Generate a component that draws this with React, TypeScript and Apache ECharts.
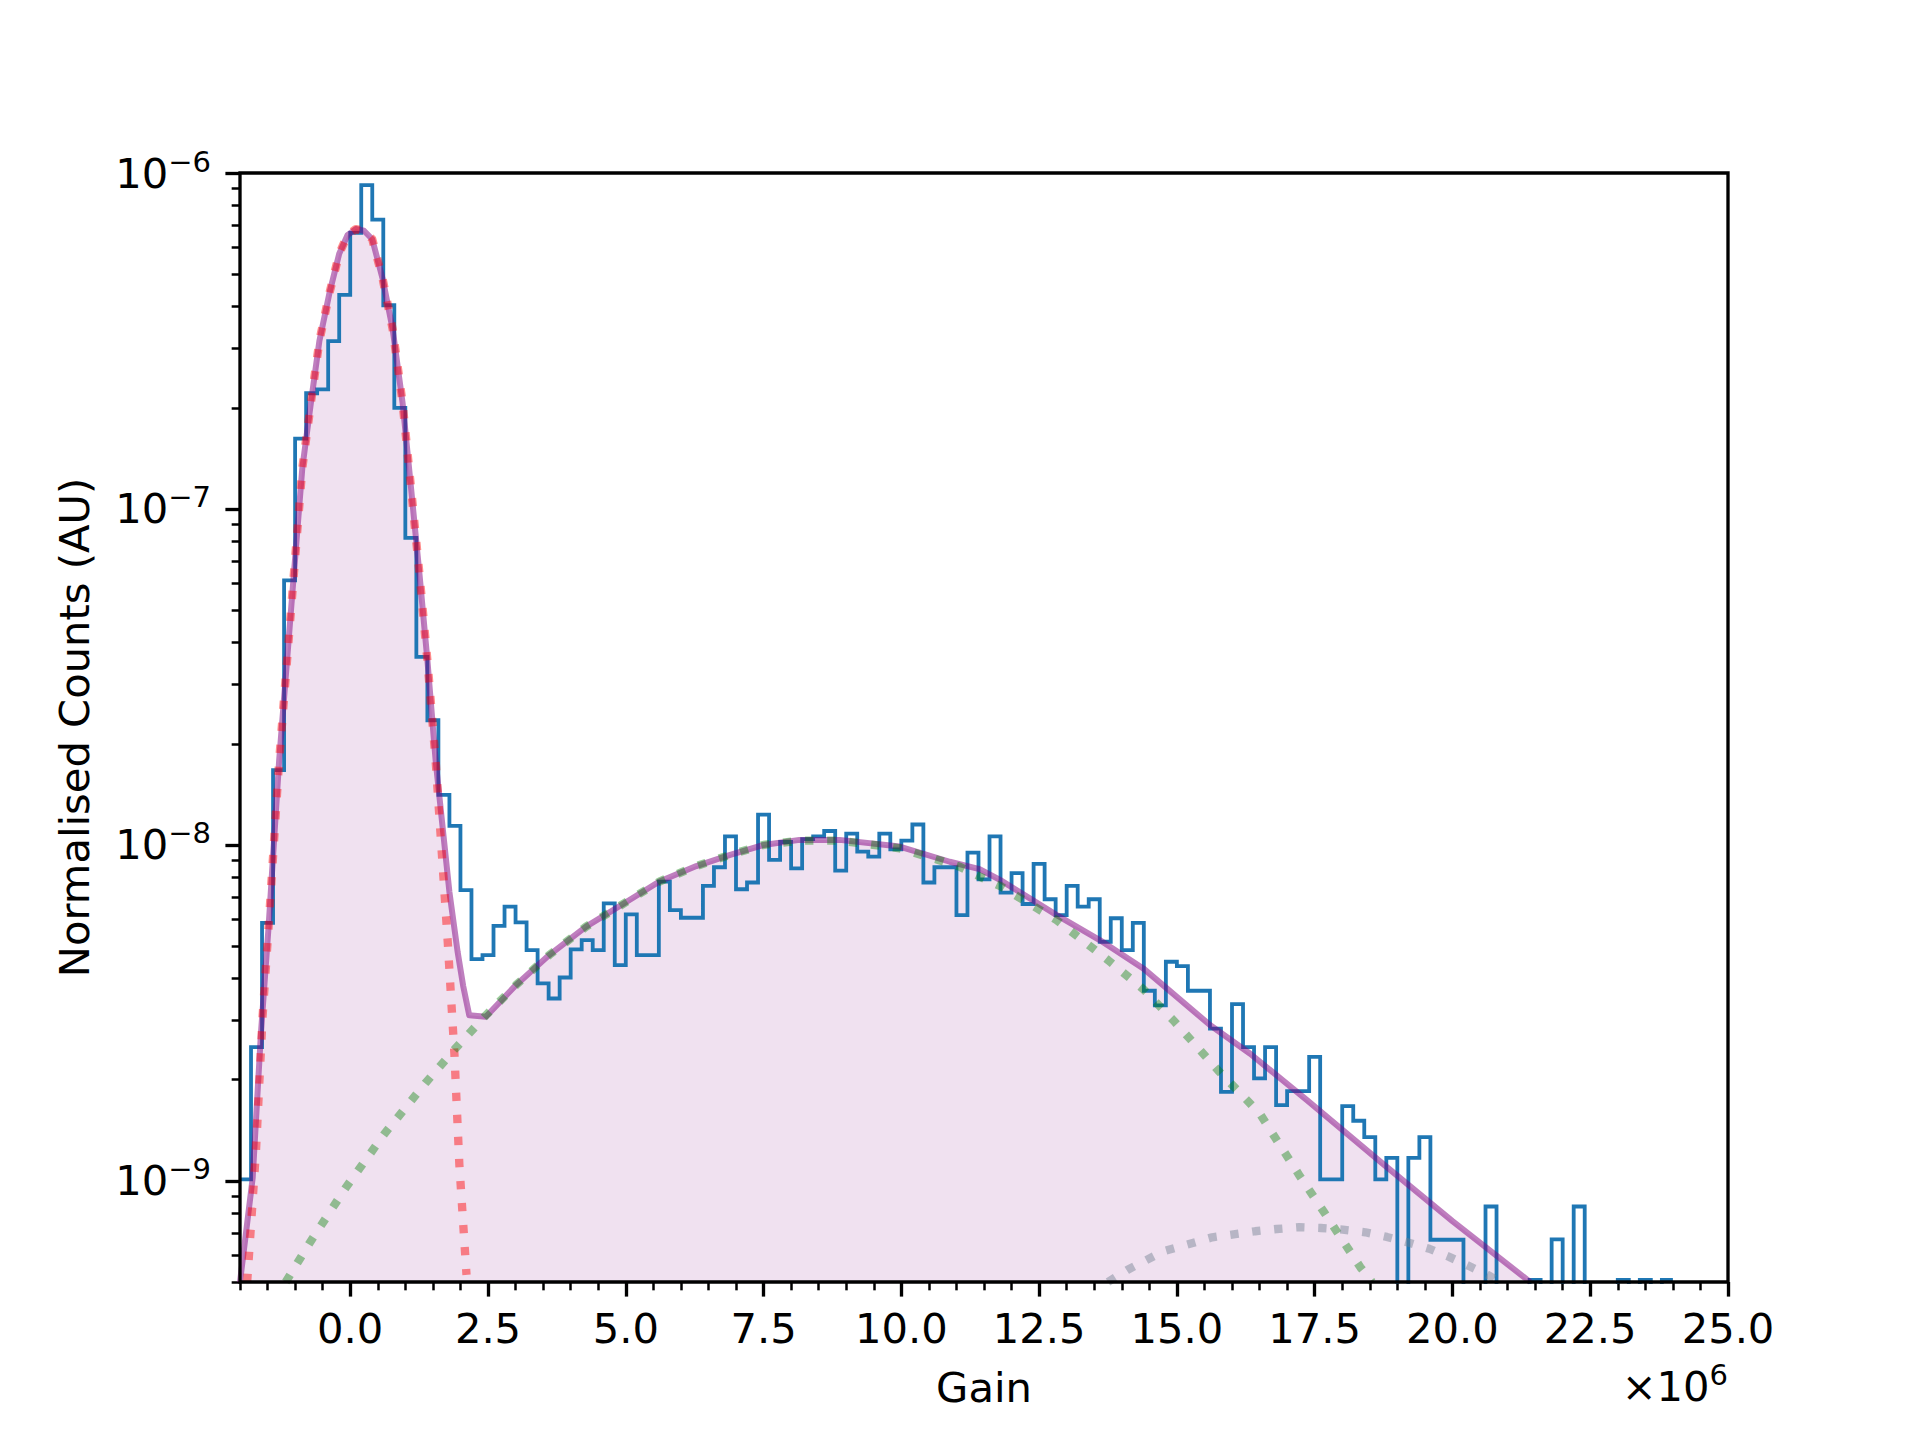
import React, { useEffect, useRef } from "react";
import * as echarts from "echarts";

// ---- data (x in units of 1e6) ----
const BIN_START = -2.0;
const BIN_WIDTH = 0.2;
const histValues = [
  1.01e-9, 2.5e-9, 5.86e-9, 1.67e-8, 6.13e-8, 1.62e-7, 2.21e-7, 2.27e-7, 3.16e-7, 4.34e-7,
  6.63e-7, 9.2e-7, 7.26e-7, 4.04e-7, 2.0e-7, 8.2e-8, 3.63e-8, 2.35e-8, 1.41e-8, 1.14e-8,
  7.34e-9, 4.57e-9, 4.7e-9, 5.74e-9, 6.55e-9, 5.88e-9, 4.86e-9, 3.87e-9, 3.49e-9, 4.03e-9,
  4.89e-9, 5.21e-9, 4.86e-9, 6.7e-9, 4.39e-9, 6.21e-9, 4.7e-9, 4.7e-9, 7.78e-9, 6.4e-9,
  6.07e-9, 6.07e-9, 7.55e-9, 8.58e-9, 1.06e-8, 7.38e-9, 7.73e-9, 1.23e-8, 9.02e-9, 1.02e-8,
  8.52e-9, 1.04e-8, 1.06e-8, 1.1e-8, 8.38e-9, 1.08e-8, 9.55e-9, 9.23e-9, 1.08e-8, 9.7e-9,
  1.03e-8, 1.15e-8, 7.73e-9, 8.58e-9, 8.58e-9, 6.18e-9, 9.48e-9, 7.9e-9, 1.06e-8, 7.21e-9,
  8.24e-9, 6.67e-9, 8.78e-9, 6.89e-9, 6.18e-9, 7.55e-9, 6.55e-9, 6.89e-9, 5.15e-9, 6.05e-9,
  4.86e-9, 5.86e-9, 3.68e-9, 3.33e-9, 4.49e-9, 4.36e-9, 3.68e-9, 3.68e-9, 2.84e-9, 1.84e-9,
  3.36e-9, 2.5e-9, 2.02e-9, 2.5e-9, 1.68e-9, 1.85e-9, 1.85e-9, 2.34e-9, 1.01e-9, 1.01e-9,
  1.67e-9, 1.51e-9, 1.35e-9, 1.01e-9, 1.17e-9, 0, 1.17e-9, 1.35e-9, 6.68e-10, 6.68e-10,
  6.68e-10, 0, 0, 8.39e-10, 0, 0, 0, 5.07e-10, 0, 6.7e-10,
  0, 8.39e-10, 0, 0, 0, 5.07e-10, 0, 5.07e-10, 0, 5.07e-10,
];

const totalX = [
  -2.0, -1.77, -1.62, -1.48, -1.29, -1.05, -0.87, -0.71, -0.56, -0.38, -0.2, -0.05, 0.1, 0.25,
  0.4, 0.59, 0.77, 0.95, 1.1, 1.26, 1.4, 1.55, 1.8, 1.95, 2.05, 2.16, 2.46, 3.01, 3.61, 4.28,
  4.95, 5.61, 6.28, 6.88, 7.5, 8.15, 8.88, 9.97, 10.88, 11.42, 11.79, 12.82, 13.6, 14.39, 15.6,
  16.33, 17.36, 18.75, 20.0, 21.41,
];
const totalY = [
  5.0e-10, 1.02e-9, 2.75e-9, 5.75e-9, 1.78e-8, 5.62e-8, 1.32e-7, 2.09e-7, 3.16e-7, 4.37e-7,
  5.75e-7, 6.53e-7, 6.81e-7, 6.73e-7, 6.35e-7, 4.83e-7, 3.43e-7, 2.07e-7, 1.17e-7, 6.31e-8,
  3.55e-8, 1.78e-8, 7.24e-9, 4.79e-9, 3.8e-9, 3.11e-9, 3.08e-9, 3.83e-9, 4.7e-9, 5.71e-9,
  6.67e-9, 7.78e-9, 8.65e-9, 9.33e-9, 1.0e-8, 1.035e-8, 1.035e-8, 9.89e-9, 8.91e-9, 8.47e-9,
  7.87e-9, 6.18e-9, 5.21e-9, 4.29e-9, 2.91e-9, 2.39e-9, 1.74e-9, 1.12e-9, 7.59e-10, 5.0e-10,
];

const pedestalX = [
  -1.87, -1.71, -1.59, -1.48, -1.29, -1.05, -0.87, -0.71, -0.56, -0.38, -0.2, -0.05, 0.1, 0.25,
  0.4, 0.59, 0.77, 0.95, 1.1, 1.26, 1.4, 1.55, 1.77, 1.89, 1.98, 2.11,
];
const pedestalY = [
  5.0e-10, 1.23e-9, 3.09e-9, 5.75e-9, 1.78e-8, 5.62e-8, 1.32e-7, 2.09e-7, 3.16e-7, 4.37e-7,
  5.75e-7, 6.53e-7, 6.81e-7, 6.73e-7, 6.35e-7, 4.83e-7, 3.43e-7, 2.07e-7, 1.17e-7, 6.31e-8,
  3.55e-8, 1.78e-8, 5.13e-9, 2.4e-9, 1.12e-9, 5.25e-10,
];

const onePeX = [
  -1.17, -0.745, -0.08, 0.62, 1.37, 1.91, 2.46, 3.01, 3.61, 4.28, 4.95, 5.61, 6.28, 6.88, 7.5,
  8.15, 8.88, 9.97, 10.67, 11.06, 11.42, 11.79, 12.82, 13.75, 14.39, 14.94, 15.75, 16.27, 16.51,
  17.22, 17.67, 18.33, 18.54,
];
const onePeY = [
  5.0e-10, 6.5e-10, 9.55e-10, 1.38e-9, 1.96e-9, 2.48e-9, 3.11e-9, 3.83e-9, 4.7e-9, 5.71e-9,
  6.67e-9, 7.78e-9, 8.65e-9, 9.33e-9, 1.0e-8, 1.03e-8, 1.03e-8, 9.77e-9, 9.02e-9, 8.61e-9,
  8.05e-9, 7.55e-9, 5.97e-9, 4.54e-9, 3.72e-9, 3.0e-9, 2.13e-9, 1.74e-9, 1.58e-9, 1.04e-9,
  8.07e-10, 5.53e-10, 5.0e-10,
];

const twoPeX = [
  13.75, 14.1, 14.75, 15.64, 16.42, 16.81, 17.22, 17.61, 18.01, 18.42, 18.81, 19.19, 19.58,
  19.95, 20.31, 20.67, 20.85,
];
const twoPeY = [
  5.0e-10, 5.43e-10, 6.17e-10, 6.79e-10, 7.08e-10, 7.19e-10, 7.28e-10, 7.24e-10, 7.16e-10,
  7.03e-10, 6.81e-10, 6.56e-10, 6.28e-10, 5.93e-10, 5.57e-10, 5.22e-10, 5.0e-10,
];

const xMajorTicks = [0, 2.5, 5, 7.5, 10, 12.5, 15, 17.5, 20, 22.5, 25];
const xMinorTicks = [
  -2, -1.5, -1, -0.5, 0.5, 1, 1.5, 2, 3, 3.5, 4, 4.5, 5.5, 6, 6.5, 7, 8, 8.5, 9, 9.5, 10.5, 11,
  11.5, 12, 13, 13.5, 14, 14.5, 15.5, 16, 16.5, 17, 18, 18.5, 19, 19.5, 20.5, 21, 21.5, 22, 23,
  23.5, 24, 24.5,
];
const yMajorTicks = [1e-9, 1e-8, 1e-7, 1e-6];
const yMinorTicks = [
  5e-10, 6e-10, 7e-10, 8e-10, 9e-10,
  2e-9, 3e-9, 4e-9, 5e-9, 6e-9, 7e-9, 8e-9, 9e-9,
  2e-8, 3e-8, 4e-8, 5e-8, 6e-8, 7e-8, 8e-8, 9e-8,
  2e-7, 3e-7, 4e-7, 5e-7, 6e-7, 7e-7, 8e-7, 9e-7,
];
const X_MIN = -2;
const X_MAX = 25;
const Y_MIN = 5e-10;
const Y_MAX = 1e-6;

// ---- style ----
const FONT = "DejaVu Sans";
const FS = 41.67;
const FLOOR = 1e-13; // stands in for empty bins on the log axis (drawn below the frame and clipped)

const pair = (xs: number[], ys: number[]) => xs.map((x, i) => [x, ys[i]]);

function buildHistStep() {
  const pts: number[][] = [];
  histValues.forEach((v, i) => {
    const x = Math.round((BIN_START + i * BIN_WIDTH) * 1000) / 1000;
    pts.push([x, v > 0 ? v : FLOOR]);
  });
  const last = histValues[histValues.length - 1];
  const xEnd = Math.round((BIN_START + histValues.length * BIN_WIDTH) * 1000) / 1000;
  pts.push([xEnd, last > 0 ? last : FLOOR]);
  return pts;
}

const supLabel = (v: number) => {
  const e = Math.round(Math.log10(v));
  return `{b|10}{s|${e < 0 ? "\u2212" : ""}${Math.abs(e)}}`;
};

const richSup = {
  b: { fontFamily: FONT, fontSize: FS, lineHeight: 52, color: "#000" },
  s: { fontFamily: FONT, fontSize: 29, lineHeight: 29, verticalAlign: "top", color: "#000" },
};

export default function App() {
  const ref = useRef<HTMLDivElement>(null);

  useEffect(() => {
    if (!ref.current) return;
    const chart = echarts.init(ref.current, null, { renderer: "svg" });

    const dotted = (color: string) => ({
      color,
      width: 8.33,
      type: [8.33, 13.75],
      cap: "butt",
      join: "round",
    });

    const hiddenLine = { show: false, onZero: false };

    const option: any = {
      animation: false,
      backgroundColor: "#ffffff",
      grid: { left: 240, top: 173, right: 192, bottom: 158, containLabel: false },
      xAxis: [
        {
          type: "value",
          min: X_MIN,
          max: X_MAX,
          position: "bottom",
          axisLine: hiddenLine,
          splitLine: { show: false },
          axisTick: {
            show: true,
            inside: false,
            length: 14.6,
            lineStyle: { color: "#000", width: 3.33 },
            customValues: xMajorTicks,
          },
          axisLabel: {
            show: true,
            customValues: xMajorTicks,
            formatter: (v: number) => v.toFixed(1),
            margin: 25,
            fontFamily: FONT,
            fontSize: FS,
            color: "#000",
          },
          name: "Gain",
          nameLocation: "middle",
          nameGap: 84,
          nameTextStyle: { fontFamily: FONT, fontSize: FS, color: "#000" },
        },
        {
          type: "value",
          min: X_MIN,
          max: X_MAX,
          position: "bottom",
          axisLine: hiddenLine,
          splitLine: { show: false },
          axisLabel: { show: false },
          axisTick: {
            show: true,
            inside: false,
            length: 8.33,
            lineStyle: { color: "#000", width: 2.5 },
            customValues: xMinorTicks,
          },
        },
      ],
      yAxis: [
        {
          type: "log",
          logBase: 10,
          min: Y_MIN,
          max: Y_MAX,
          position: "left",
          axisLine: hiddenLine,
          splitLine: { show: false },
          axisTick: {
            show: true,
            inside: false,
            length: 14.6,
            lineStyle: { color: "#000", width: 3.33 },
            customValues: yMajorTicks,
          },
          axisLabel: {
            show: true,
            customValues: yMajorTicks,
            formatter: supLabel,
            margin: 29,
            rich: richSup,
          },
          name: "Normalised Counts (AU)",
          nameLocation: "middle",
          nameGap: 145,
          nameRotate: 90,
          nameTextStyle: { fontFamily: FONT, fontSize: FS, color: "#000" },
        },
        {
          type: "log",
          logBase: 10,
          min: Y_MIN,
          max: Y_MAX,
          position: "left",
          axisLine: hiddenLine,
          splitLine: { show: false },
          axisLabel: { show: false },
          axisTick: {
            show: true,
            inside: false,
            length: 8.33,
            lineStyle: { color: "#000", width: 2.5 },
            customValues: yMinorTicks,
          },
        },
      ],
      graphic: [
        {
          type: "rect",
          z: 100,
          silent: true,
          shape: { x: 240, y: 173, width: 1488, height: 1109 },
          style: { fill: "none", stroke: "#000", lineWidth: 3.33 },
        },
        {
          type: "text",
          z: 100,
          silent: true,
          x: 1728,
          y: 1386,
          style: {
            text: "{b|\u00d710}{s|6}",
            align: "right",
            verticalAlign: "middle",
            rich: richSup,
          },
        },
      ],
      series: [
        {
          name: "fill",
          type: "line",
          data: pair(totalX, totalY),
          showSymbol: false,
          symbol: "none",
          lineStyle: { width: 0, opacity: 0 },
          areaStyle: { color: "rgba(128,0,128,0.17)", origin: "start" },
          silent: true,
          z: 1,
        },
        {
          name: "data",
          type: "line",
          step: "end",
          data: buildHistStep(),
          showSymbol: false,
          symbol: "none",
          lineStyle: { color: "#1f77b4", width: 3.8, join: "miter" },
          z: 2,
        },
        {
          name: "total fit",
          type: "line",
          data: pair(totalX, totalY),
          showSymbol: false,
          symbol: "none",
          lineStyle: { color: "rgba(128,0,128,0.5)", width: 6, join: "round" },
          z: 3,
        },
        {
          name: "pedestal",
          type: "line",
          data: pair(pedestalX, pedestalY),
          showSymbol: false,
          symbol: "none",
          lineStyle: dotted("rgba(255,0,0,0.45)"),
          z: 4,
        },
        {
          name: "1 p.e.",
          type: "line",
          data: pair(onePeX, onePeY),
          showSymbol: false,
          symbol: "none",
          lineStyle: dotted("rgba(0,128,0,0.4)"),
          z: 4,
        },
        {
          name: "2 p.e.",
          type: "line",
          data: pair(twoPeX, twoPeY),
          showSymbol: false,
          symbol: "none",
          lineStyle: dotted("rgba(112,128,144,0.45)"),
          z: 4,
        },
      ],
    };

    chart.setOption(option);
    return () => chart.dispose();
  }, []);

  return (
    <div
      ref={ref}
      style={{ position: "absolute", left: 0, top: 0, width: 1920, height: 1440, background: "#fff" }}
    />
  );
}
